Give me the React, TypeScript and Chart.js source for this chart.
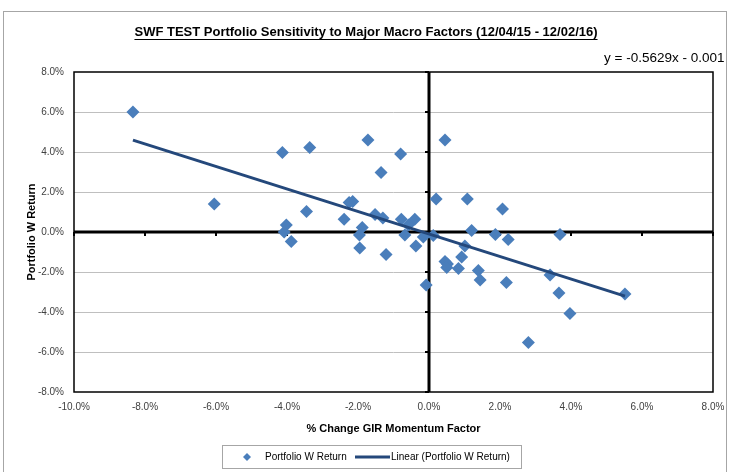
import React, { useEffect, useRef } from 'react';
import { Chart, registerables } from 'chart.js';

Chart.register(...registerables);

// ---- data (percent units) ----
const momentumChange: number[] = [
  -8.34, -6.05, -4.13, -3.36, -1.72, -0.8, -1.35, -2.25, -2.15, -3.45,
  -2.39, -4.02, -4.08, -3.88, -1.52, -1.3, -1.88, -1.96, -1.95, -1.21,
  -0.78, -0.4, -0.58, -0.68, -0.37, -0.16, 0.12, 0.2, 0.45, 1.08,
  2.07, 1.2, 1.87, 2.23, 3.69, 1.01, 0.92, 0.45, 0.52, 0.5,
  0.83, 1.39, 1.44, 2.18, 3.41, 3.66, 3.97, 2.8, 5.52, -0.08,
];
const portfolioReturn: number[] = [
  6.0, 1.4, 3.98, 4.23, 4.6, 3.9, 2.97, 1.47, 1.52, 1.02,
  0.64, 0.35, 0.0, -0.48, 0.88, 0.7, 0.23, -0.15, -0.8, -1.13,
  0.64, 0.64, 0.35, -0.15, -0.7, -0.25, -0.18, 1.65, 4.6, 1.65,
  1.15, 0.07, -0.12, -0.37, -0.12, -0.7, -1.25, -1.48, -1.6, -1.78,
  -1.82, -1.92, -2.4, -2.52, -2.15, -3.05, -4.07, -5.53, -3.1, -2.65,
];
const xTickValues: number[] = [-10, -8, -6, -4, -2, 0, 2, 4, 6, 8];
const yTickValues: number[] = [-8, -6, -4, -2, 0, 2, 4, 6, 8];

const trendSlope = -0.5629;
const trendIntercept = -0.001; // in fraction units
const equationLabel = 'y = -0.5629x - 0.001';
const chartTitle = 'SWF TEST Portfolio Sensitivity to Major Macro Factors (12/04/15 - 12/02/16)';
const seriesName = 'Portfolio W Return';
const trendName = 'Linear (Portfolio W Return)';
const xAxisTitle = '% Change GIR Momentum Factor';
const yAxisTitle = 'Portfolio W Return';

const FONT = '"Liberation Sans", Arial, sans-serif';
const MARKER = '#4a7ebb';
const TREND = '#24487b';

const decorPlugin = {
  id: 'decor',
  beforeDraw(chart: any) {
    const { ctx, width, height } = chart;
    ctx.save();
    ctx.fillStyle = '#ffffff';
    ctx.fillRect(0, 0, width, height);
    ctx.restore();
  },
  beforeDatasetsDraw(chart: any) {
    const { ctx, chartArea: a, scales } = chart;
    const xs = scales.x;
    const ys = scales.y;
    const line = (x1: number, y1: number, x2: number, y2: number) => {
      ctx.beginPath();
      ctx.moveTo(x1, y1);
      ctx.lineTo(x2, y2);
      ctx.stroke();
    };
    ctx.save();
    ctx.strokeStyle = '#000';
    ctx.lineWidth = 1.5;
    ctx.strokeRect(a.left, a.top, a.right - a.left, a.bottom - a.top);
    const x0 = xs.getPixelForValue(0);
    const y0 = ys.getPixelForValue(0);
    ctx.lineWidth = 3;
    line(x0, a.top, x0, a.bottom);
    line(a.left, y0, a.right, y0);
    ctx.lineWidth = 2;
    yTickValues.forEach((v) => {
      const py = ys.getPixelForValue(v);
      line(x0 - 4, py, x0, py);
    });
    xTickValues.forEach((v) => {
      const px = xs.getPixelForValue(v);
      line(px, y0, px, y0 + 4);
    });
    ctx.restore();
  },
  afterDraw(chart: any) {
    const { ctx, width } = chart;
    ctx.save();
    // outer border
    ctx.strokeStyle = '#a6a6a6';
    ctx.lineWidth = 1;
    ctx.strokeRect(3.5, 11.5, width - 7, 480);
    // title
    ctx.fillStyle = '#000';
    ctx.font = `bold 13px ${FONT}`;
    ctx.textAlign = 'center';
    ctx.textBaseline = 'middle';
    const tx = 366;
    const ty = 32;
    ctx.fillText(chartTitle, tx, ty);
    const tw = ctx.measureText(chartTitle).width;
    ctx.lineWidth = 1;
    ctx.strokeStyle = '#000';
    ctx.beginPath();
    ctx.moveTo(tx - tw / 2, ty + 7.5);
    ctx.lineTo(tx + tw / 2, ty + 7.5);
    ctx.stroke();
    // equation
    ctx.font = `13.5px ${FONT}`;
    ctx.textAlign = 'left';
    ctx.fillText(equationLabel, 604, 58);
    // legend
    ctx.strokeStyle = '#a6a6a6';
    ctx.strokeRect(222.5, 445.5, 299, 23);
    const ly = 457;
    ctx.fillStyle = MARKER;
    ctx.beginPath();
    ctx.moveTo(247, ly - 4);
    ctx.lineTo(251, ly);
    ctx.lineTo(247, ly + 4);
    ctx.lineTo(243, ly);
    ctx.closePath();
    ctx.fill();
    ctx.fillStyle = '#000';
    ctx.font = `10px ${FONT}`;
    ctx.fillText(seriesName, 265, ly);
    ctx.strokeStyle = TREND;
    ctx.lineWidth = 3;
    ctx.beginPath();
    ctx.moveTo(355, ly);
    ctx.lineTo(390, ly);
    ctx.stroke();
    ctx.fillStyle = '#000';
    ctx.fillText(trendName, 391, ly);
    ctx.restore();
  },
};

export default function App() {
  const canvasRef = useRef<HTMLCanvasElement | null>(null);

  useEffect(() => {
    document.body.style.margin = '0';
    const canvas = canvasRef.current;
    if (!canvas) return;

    const points = momentumChange.map((x, i) => ({ x, y: portfolioReturn[i] }));
    const minX = Math.min(...momentumChange);
    const maxX = Math.max(...momentumChange);
    const trendAt = (x: number) => trendSlope * x + trendIntercept * 100;
    const trendPoints = [
      { x: minX, y: trendAt(minX) },
      { x: maxX, y: trendAt(maxX) },
    ];

    const chart = new Chart(canvas, {
      type: 'scatter',
      data: {
        datasets: [
          {
            type: 'line',
            label: trendName,
            data: trendPoints,
            borderColor: TREND,
            borderWidth: 3,
            pointRadius: 0,
            showLine: true,
            fill: false,
            order: 0,
          } as any,
          {
            label: seriesName,
            data: points,
            pointStyle: 'rectRot',
            pointRadius: 6.5,
            backgroundColor: MARKER,
            borderColor: MARKER,
            borderWidth: 0,
            order: 1,
          },
        ],
      },
      options: {
        responsive: false,
        animation: false,
        layout: { padding: { top: 72, right: 17, left: 0, bottom: 0 } },
        plugins: {
          legend: { display: false },
          title: { display: false },
          tooltip: { enabled: false },
        },
        scales: {
          x: {
            type: 'linear',
            min: -10,
            max: 8,
            afterBuildTicks: (scale: any) => {
              scale.ticks = xTickValues.map((value) => ({ value }));
            },
            afterFit: (scale: any) => {
              scale.height = 80;
              scale.paddingLeft = 0;
              scale.paddingRight = 0;
            },
            grid: { display: false, drawTicks: false },
            border: { display: false },
            ticks: {
              padding: 9,
              color: '#404040',
              font: { family: FONT, size: 10 },
              callback: (v: any) => `${Number(v).toFixed(1)}%`,
            },
            title: {
              display: true,
              text: xAxisTitle,
              color: '#000',
              font: { family: FONT, size: 11, weight: 'bold' },
              padding: { top: 4, bottom: 36 },
            },
          },
          y: {
            type: 'linear',
            min: -8,
            max: 8,
            afterBuildTicks: (scale: any) => {
              scale.ticks = yTickValues.map((value) => ({ value }));
            },
            afterFit: (scale: any) => {
              scale.width = 74;
              scale.paddingTop = 0;
              scale.paddingBottom = 0;
            },
            grid: {
              drawTicks: false,
              color: (c: any) =>
                c.tick && (c.tick.value === 0 || Math.abs(c.tick.value) === 8) ? 'rgba(0,0,0,0)' : '#bfbfbf',
              lineWidth: 1,
            },
            border: { display: false },
            ticks: {
              padding: 10,
              color: '#404040',
              font: { family: FONT, size: 10 },
              callback: (v: any) => `${Number(v).toFixed(1)}%`,
            },
            title: {
              display: true,
              text: yAxisTitle,
              color: '#000',
              font: { family: FONT, size: 11, weight: 'bold' },
              padding: { top: 25, bottom: 0 },
            },
          },
        },
      },
      plugins: [decorPlugin],
    });

    return () => chart.destroy();
  }, []);

  return (
    <div style={{ width: 730, height: 472, position: 'relative' }}>
      <canvas ref={canvasRef} width={730} height={472} style={{ display: 'block' }} />
    </div>
  );
}
